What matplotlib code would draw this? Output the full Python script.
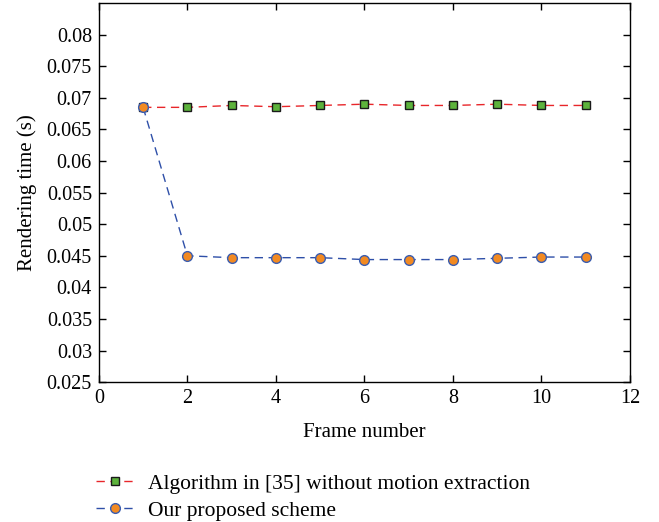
import matplotlib
matplotlib.use("Agg")
import matplotlib.pyplot as plt

frames = [1, 2, 3, 4, 5, 6, 7, 8, 9, 10, 11]
algo35 = [0.0685, 0.0685, 0.0688, 0.0686, 0.0688, 0.0690, 0.0688, 0.0688, 0.0690, 0.0688, 0.0688]
proposed = [0.0685, 0.0450, 0.0447, 0.0447, 0.0447, 0.0444, 0.0444, 0.0444, 0.0446, 0.0448, 0.0448]
labels = ["Algorithm in [35] without motion extraction", "Our proposed scheme"]
yticks = [0.025, 0.03, 0.035, 0.04, 0.045, 0.05, 0.055, 0.06, 0.065, 0.07, 0.075, 0.08]
ytick_labels = ["0.025", "0.03", "0.035", "0.04", "0.045", "0.05", "0.055", "0.06", "0.065", "0.07", "0.075", "0.08"]
xticks = [0, 2, 4, 6, 8, 10, 12]

plt.rcParams['font.family'] = ['Liberation Serif', 'DejaVu Serif']
plt.rcParams['font.size'] = 14.5

fig = plt.figure(figsize=(6.59, 5.22), dpi=100)
ax = fig.add_axes([0.150, 0.268, 0.806, 0.726])

ax.plot(frames, algo35, linestyle=(0, (6, 4)), color='#e8262a', linewidth=1.0,
        marker='s', markersize=6, markerfacecolor='#5db33c', markeredgecolor='#1a1a1a',
        markeredgewidth=1.0, label=labels[0])
ax.plot(frames, proposed, linestyle=(0, (6, 4)), color='#2e4fa8', linewidth=1.0,
        marker='o', markersize=7, markerfacecolor='#f28a22', markeredgecolor='#3a5db0',
        markeredgewidth=1.0, label=labels[1])

ax.set_xlim(0, 12)
ax.set_ylim(0.025, 0.085)
ax.set_xticks(xticks)
ax.set_yticks(yticks)
ax.set_yticklabels(ytick_labels)
ax.tick_params(direction='in', top=True, right=True, length=5, width=1, pad=5,
               labelsize=14.5)
for s in ax.spines.values():
    s.set_linewidth(1.0)

ax.set_xlabel("Frame number", fontsize=15, labelpad=11)
ax.set_ylabel("Rendering time (s)", fontsize=15, labelpad=7)

fig.legend(loc='lower left', bbox_to_anchor=(0.13, -0.018), frameon=False,
           fontsize=15.5, handlelength=1.7, handletextpad=0.7, labelspacing=0.32,
           borderaxespad=0.1)

fig.savefig("out.png", dpi=100)
